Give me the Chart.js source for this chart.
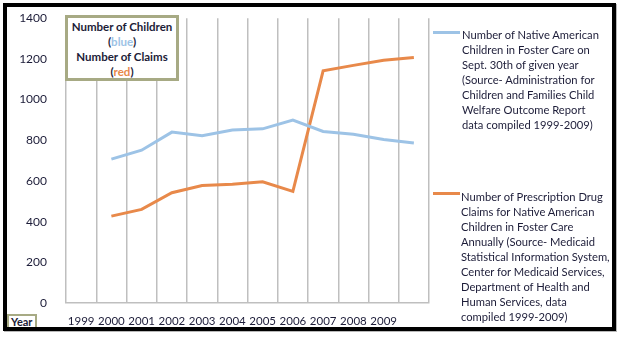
<!DOCTYPE html>
<html>
<head>
<meta charset="utf-8">
<script src="https://cdn.jsdelivr.net/npm/chart.js@4/dist/chart.umd.min.js"></script>
<style>
  html, body { margin: 0; padding: 0; background: #fff; }
  #wrap { position: relative; width: 628px; height: 341px; overflow: hidden; font-family: 'Lato', sans-serif; }
  #c { position: absolute; left: 0; top: 0; }
  .frame { position: absolute; left: 3px; top: 3px; width: 613px; height: 328px; box-sizing: border-box; border: 4px solid #000; box-shadow: 1px 1px 0 #b8b8b8; pointer-events: none; }
  .titlebox { position: absolute; left: 65px; top: 15px; width: 114px; height: 66px; box-sizing: border-box; border: 3px solid #A7AA84; background: #fff; text-align: center; font-weight: bold; font-size: 11.5px; line-height: 15px; color: #1c1c38; padding-top: 1px; }
  .yearbox { position: absolute; left: 7px; top: 314px; width: 30px; height: 14px; box-sizing: border-box; border-top: 2px solid #A7AA84; border-right: 2px solid #A7AA84; border-left: 2px solid #A7AA84; background: #fff; font-weight: bold; font-size: 11px; line-height: 12px; color: #1c1c38; padding-left: 2px; }
  .leg { position: absolute; font-size: 11.2px; line-height: 15px; color: #1c1c38; white-space: nowrap; }
  .sample { position: absolute; height: 3px; width: 27px; }
</style>
</head>
<body>
<div id="wrap">
  <canvas id="c" width="628" height="341"></canvas>
  <div class="titlebox">Number of Children<br>(<span style="color:#9DC3E6">blue</span>)<br>Number of Claims<br>(<span style="color:#E8894A">red</span>)</div>
  <div class="yearbox">Year</div>
  <div class="sample" style="left:433px; top:30.5px; background:#9DC3E6;"></div>
  <div class="leg" style="left:462px; top:26.5px;">Number of Native American<br>Children in Foster Care on<br>Sept. 30th of given year<br>(Source- Administration for<br>Children and Families Child<br>Welfare Outcome Report<br>data compiled 1999-2009)</div>
  <div class="sample" style="left:433px; top:192px; background:#E8894A;"></div>
  <div class="leg" style="left:461px; top:189px;">Number of Prescription Drug<br>Claims for Native American<br>Children in Foster Care<br>Annually (Source- Medicaid<br>Statistical Information System,<br>Center for Medicaid Services,<br>Department of Health and<br>Human Services, data<br>compiled 1999-2009)</div>
  <div class="frame"></div>
</div>
<script>
const years = ['1999', '2000', '2001', '2002', '2003', '2004', '2005', '2006', '2007', '2008', '2009', ''];
const childrenInCare = [null, 707, 751, 840, 822, 850, 856, 899, 843, 830, 804, 787];
const drugClaims = [null, 427, 460, 542, 578, 584, 596, 549, 1141, 1168, 1193, 1207];
const yTicks = [0, 200, 400, 600, 800, 1000, 1200, 1400];

new Chart(document.getElementById('c'), {
  type: 'line',
  data: {
    labels: years,
    datasets: [
      { label: 'Children', data: childrenInCare, borderColor: '#9DC3E6', borderWidth: 3, pointRadius: 0, tension: 0, fill: false },
      { label: 'Claims', data: drugClaims, borderColor: '#E8894A', borderWidth: 3, pointRadius: 0, tension: 0, fill: false }
    ]
  },
  options: {
    responsive: false,
    animation: false,
    layout: { padding: { left: 0, right: 199, top: 18, bottom: 0 } },
    plugins: { legend: { display: false }, tooltip: { enabled: false } },
    scales: {
      x: {
        offset: true,
        grid: { display: true, offset: true, color: '#BFBFBF', lineWidth: 1.5, drawTicks: false },
        border: { display: true, color: '#BFBFBF', width: 1.5 },
        ticks: { padding: 11, color: '#1c1c38', font: { family: 'Lato', size: 11.5 }, maxRotation: 0, autoSkip: false },
        afterFit: (s) => { s.height = 38; }
      },
      y: {
        min: 0, max: 1400,
        afterBuildTicks: (s) => { s.ticks = yTicks.map(v => ({ value: v })); },
        grid: { display: false },
        border: { display: false },
        ticks: { padding: 11, color: '#1c1c38', font: { family: 'Lato', size: 12 }, callback: (v) => String(v) },
        afterFit: (s) => { s.width = 66; }
      }
    }
  }
});
</script>
</body>
</html>
